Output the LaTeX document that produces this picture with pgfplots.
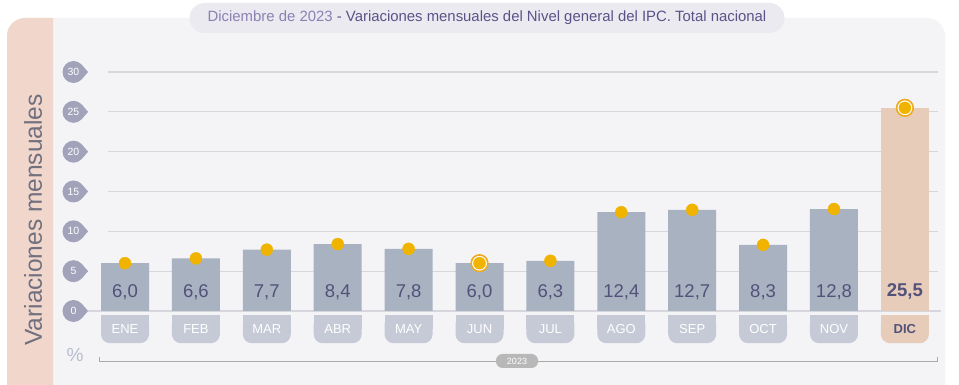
\documentclass[border=0pt]{standalone}
\usepackage{fontspec}
\setmainfont{Liberation Sans}
\usepackage{pgfplots}
\pgfplotsset{compat=1.18}
\usepackage{pgfplotstable}

\definecolor{panelcol}{RGB}{244,244,247}
\definecolor{pinkcol}{RGB}{241,214,204}
\definecolor{titlefill}{RGB}{235,234,241}
\definecolor{titlelight}{RGB}{140,128,178}
\definecolor{titledark}{RGB}{92,82,135}
\definecolor{ylabcol}{RGB}{112,112,126}
\definecolor{pctcol}{RGB}{184,190,208}
\definecolor{linecol}{RGB}{170,170,170}
\definecolor{yearfill}{RGB}{184,184,184}
\definecolor{gridcol}{RGB}{214,214,220}
\definecolor{tickcol}{RGB}{162,162,186}
\definecolor{barcol}{RGB}{168,178,192}
\definecolor{boxcol}{RGB}{197,202,214}
\definecolor{diccol}{RGB}{232,204,186}
\definecolor{valcol}{RGB}{82,82,122}
\definecolor{dotcol}{RGB}{240,180,0}
\definecolor{ringcol}{RGB}{238,170,30}

% y tick label: tear-drop pointing right (empty room to the right up to the axis)
\newcommand{\ytl}[1]{\tikz[baseline=0pt]{%
  \fill[tickcol] (0,0) circle (11pt);
  \fill[tickcol] (41:11pt) -- (14.6pt,0pt) -- (-41:11pt) -- cycle;
  \path (34.3pt,0pt);
  \node[anchor=center, text=white, inner sep=0pt, font=\fontsize{10.5}{10.5}\selectfont] at (0,0) {#1};}}
% x tick label: box with square top and rounded bottom (4pt gap above)
\newcommand{\mlab}[3]{\tikz[baseline=0pt]{%
  \path (0pt,4pt);
  \fill[#2, rounded corners=9pt] (-24pt,-28pt) rectangle (24pt,0pt);
  \fill[#2] (-24pt,-14pt) rectangle (24pt,0pt);
  \node[anchor=center, text=#3, inner sep=0pt, font=\fontsize{13}{13}\selectfont] at (0pt,-14pt) {#1};}}

\pgfplotstableread{
x y ly
0 6.0 2.4
1 6.6 2.4
2 7.7 2.4
3 8.4 2.4
4 7.8 2.4
5 6.0 2.4
6 6.3 2.4
7 12.4 2.4
8 12.7 2.4
9 8.3 2.4
10 12.8 2.4
}\maindata
\pgfplotstableread{
x y ly
11 25.5 2.4
}\dicdata
\pgfplotstableread{
x y
5 6.0
11 25.5
}\ringdata

\begin{document}
\begin{tikzpicture}
\useasboundingbox (0pt,0pt) rectangle (959pt,385pt);
\fill[white] (0pt,0pt) rectangle (959pt,385pt);
\fill[panelcol, rounded corners=18pt] (7pt,-40pt) rectangle (945pt,367pt);
\begin{scope}
\clip (7pt,-40pt) rectangle (53pt,400pt);
\fill[pinkcol, rounded corners=18pt] (7pt,-40pt) rectangle (120pt,367pt);
\end{scope}
\node[fill=titlefill, rounded corners=15pt, minimum width=595pt, minimum height=30pt, inner sep=0pt, font=\fontsize{14.9}{16}\selectfont] at (487pt,367pt) {\textcolor{titlelight}{Diciembre de 2023} \textcolor{titledark}{- Variaciones mensuales del Nivel general del IPC. Total nacional}};
\node[rotate=90, text=ylabcol, font=\fontsize{24.5}{24.5}\selectfont] at (33pt,165pt) {Variaciones mensuales};
\node[text=pctcol, font=\fontsize{19}{19}\selectfont] at (75pt,30pt) {\%};
\draw[linecol, line width=0.9pt] (99pt,28pt) -- (99pt,24pt) -- (937pt,24pt) -- (937pt,28pt);
\node[fill=yearfill, text=white, rounded corners=6.5pt, font=\fontsize{9}{9}\selectfont, minimum width=42pt, minimum height=14pt, inner sep=1pt] at (517pt,24pt) {2023};

\begin{axis}[
  at={(108pt,74pt)}, anchor=south west, scale only axis,
  width=830pt, height=239pt,
  xmin=-0.24, xmax=11.467, ymin=0, ymax=30,
  clip=false,
  axis line style={draw=none},
  major tick length=0pt,
  ymajorgrids, grid style={gridcol, line width=1.3pt},
  ytick={0,5,...,30},
  yticklabels={\ytl{0},\ytl{5},\ytl{10},\ytl{15},\ytl{20},\ytl{25},\ytl{30}},
  xtick={0,...,11},
  xticklabels={\mlab{ENE}{boxcol}{white},\mlab{FEB}{boxcol}{white},\mlab{MAR}{boxcol}{white},\mlab{ABR}{boxcol}{white},\mlab{MAY}{boxcol}{white},\mlab{JUN}{boxcol}{white},\mlab{JUL}{boxcol}{white},\mlab{AGO}{boxcol}{white},\mlab{SEP}{boxcol}{white},\mlab{OCT}{boxcol}{white},\mlab{NOV}{boxcol}{white},\mlab{\textbf{DIC}}{diccol}{valcol}},
  /pgf/number format/assume math mode=true,
  xticklabel style={inner sep=0pt, anchor=north},
  yticklabel style={inner sep=0pt, anchor=east},
]
\draw[gridcol, line width=1.6pt] (axis cs:-0.52,0) -- (axis cs:11.51,0);
\addplot[ybar, bar width=48pt, bar shift=0pt, fill=barcol, draw=none] table[x=x,y=y]{\maindata};
\addplot[ybar, bar width=48pt, bar shift=0pt, fill=diccol, draw=none] table[x=x,y=y]{\dicdata};
\addplot[draw=none, mark=none,
  nodes near coords={\pgfmathprintnumber[fixed,fixed zerofill,precision=1,use comma]{\pgfplotspointmeta}},
  point meta=explicit,
  every node near coord/.append style={anchor=center, text=valcol, font=\fontsize{18.5}{18.5}\selectfont}]
  table[x=x,y=ly,meta=y]{\maindata};
\addplot[draw=none, mark=none,
  nodes near coords={\pgfmathprintnumber[fixed,fixed zerofill,precision=1,use comma]{\pgfplotspointmeta}},
  point meta=explicit,
  every node near coord/.append style={anchor=center, text=valcol, font=\fontsize{18.5}{18.5}\selectfont\bfseries}]
  table[x=x,y=ly,meta=y]{\dicdata};
\addplot[only marks, mark=*, mark size=8.3pt, mark options={draw=ringcol, fill=white, line width=1.6pt}] table[x=x,y=y]{\ringdata};
\addplot[only marks, mark=*, mark size=6pt, color=dotcol] table[x=x,y=y]{\maindata};
\addplot[only marks, mark=*, mark size=6pt, color=dotcol] table[x=x,y=y]{\dicdata};
\end{axis}
\end{tikzpicture}
\end{document}
